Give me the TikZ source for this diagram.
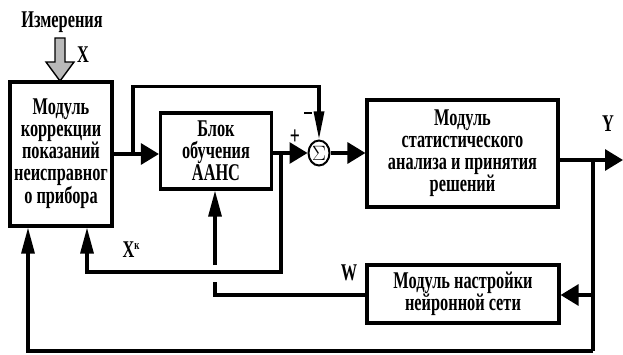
\documentclass[tikz,border=0pt]{standalone}
\usepackage{fontspec}
\setmainfont[FakeStretch=0.68]{Liberation Serif}
\usetikzlibrary{arrows.meta,shapes.geometric}
\begin{document}
\begin{tikzpicture}[x=1pt,y=1pt,
  line width=3.2pt,
  harr/.style={-{Triangle[length=18pt,width=21pt]}},
  varr/.style={-{Triangle[length=26pt,width=13pt]}},
  narr/.style={-{Triangle[length=28pt,width=10pt]}},
  box/.style={draw,line width=3.2pt,rectangle,inner sep=0pt,align=center,
    font=\bfseries\fontsize{24}{22}\selectfont},
  lbl/.style={inner sep=0pt,font=\bfseries\fontsize{24}{22}\selectfont}]
\useasboundingbox (0,0) rectangle (623,354);
% boxes
\node[box,minimum width=102pt,minimum height=144pt] (mod) at (61,200)
  {Модуль\\коррекции\\показаний\\неисправног\\о прибора};
\node[box,minimum width=111pt,minimum height=76pt] (blk) at (216,203)
  {Блок\\обучения\\ААНС};
\node[draw,ellipse,line width=2pt,minimum width=21pt,minimum height=25pt,inner sep=0pt,
  font=\fontsize{20}{20}\selectfont] (sig) at (319,201) {$\Sigma$};
\node[box,minimum width=191pt,minimum height=107pt] (stat) at (462.5,200.5)
  {Модуль\\статистического\\анализа и принятия\\решений};
\node[box,minimum width=192pt,minimum height=58pt] (nn) at (463,60)
  {Модуль настройки\\нейронной сети};
% grey input arrow
\draw[line width=1.4pt,fill=gray!55] (55,316) -- (65,316) -- (65,292) -- (74,292)
  -- (60,273) -- (46,292) -- (55,292) -- cycle;
\node[lbl] (meas) at (62,332) {Измерения};
\node[lbl] (xin) at (83,299) {X};
% coordinates
\coordinate (b1) at (133,200);
\coordinate (t1) at (133,267.5);
\coordinate (t2) at (sig.north |- t1);
\coordinate (b2) at (281,201);
\coordinate (k1) at (281,82);
\coordinate (k2) at (87,82);
\coordinate (w1) at (215,59);
\coordinate (w2) at (215,72);
\coordinate (w3) at (215,89);
\coordinate (o1) at (593,194);
\coordinate (o2) at (623,194);
\coordinate (o3) at (593,59);
\coordinate (o4) at (593,3);
\coordinate (o5) at (28,3);
% connectors
\draw[harr] (mod.east |- b1) -- (blk.west |- b1);
\draw[narr] (b1) -- (t1) -- (t2) -- (sig.north);
\draw[harr] (blk.east |- b2) -- (sig.west);
\draw[harr] (sig.east) -- (stat.west |- sig.east);
\draw[harr] (stat.east |- o1) -- (o2);
\draw[harr] (o1) -- (o3) -- (nn.east |- o3);
\draw (o3) -- (o4);
\draw[varr] (o4) -- (o5) -- (o5 |- mod.south);
\draw[varr] (b2) -- (k1) -- (k2) -- (k2 |- mod.south);
\draw (nn.west |- w1) -- (w1) -- (w2);
\draw[varr] (w3) -- (w3 |- blk.south);
% labels
\node[lbl,font=\bfseries\fontsize{26}{26}\selectfont] (plus) at (295,217) {+};
\node[lbl] (minus) at (308,241) {\rule{8pt}{2.6pt}};
\node[lbl] (yout) at (608,230) {Y};
\node[lbl] (xk) at (131,104) {X\raisebox{8pt}{\fontsize{13}{13}\selectfont к}};
\node[lbl] (wl) at (349,81) {W};
\end{tikzpicture}
\end{document}
